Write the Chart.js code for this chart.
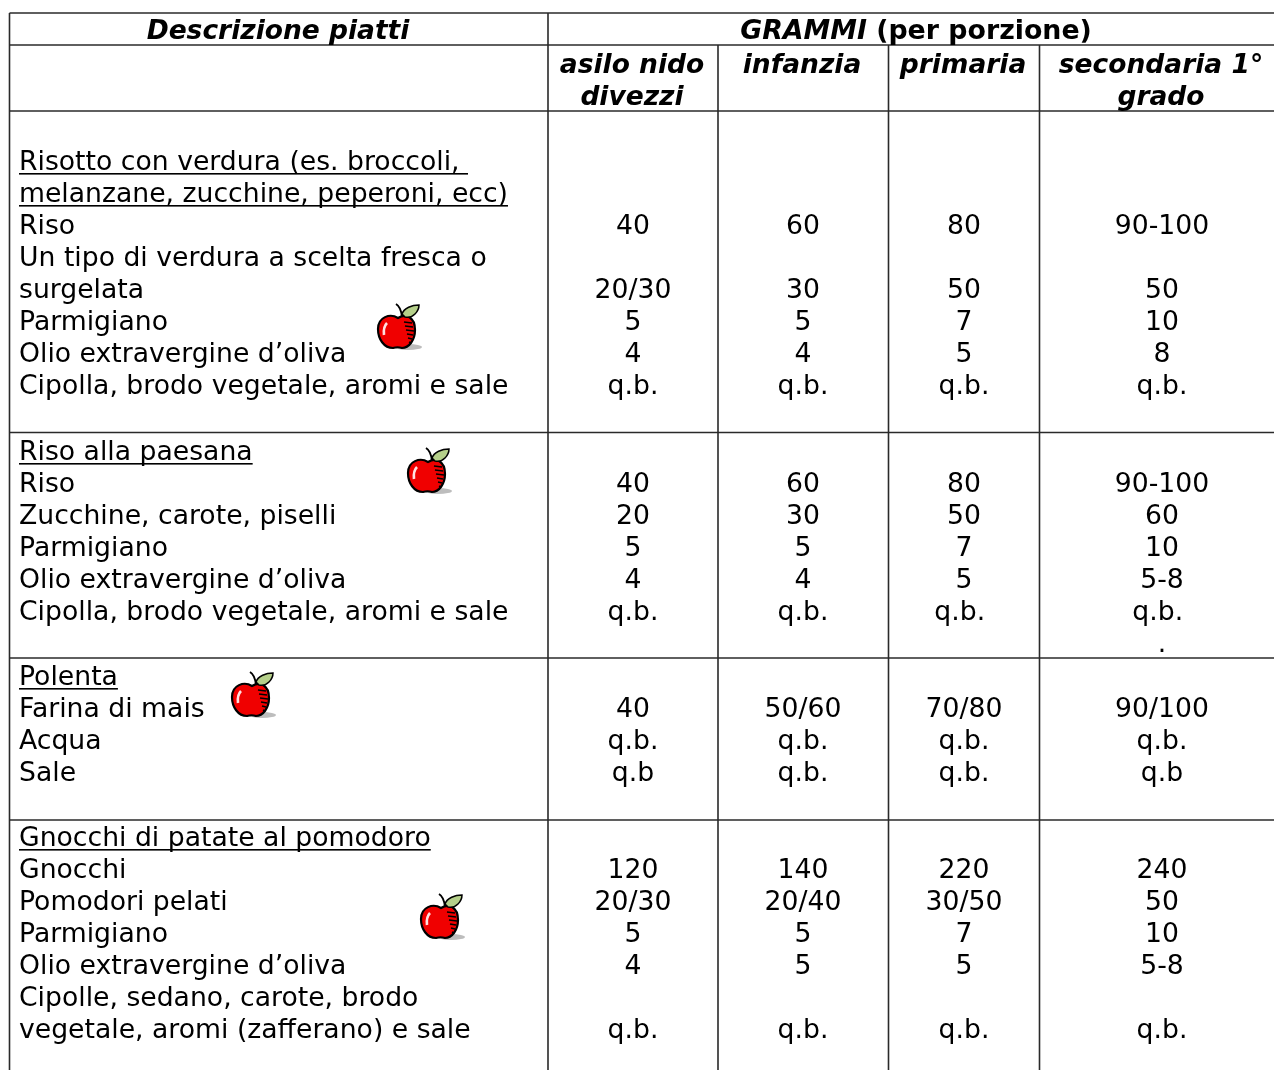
<!DOCTYPE html>
<html lang="it">
<head>
<meta charset="utf-8">
<title>Grammi per porzione</title>
<script src="https://cdn.jsdelivr.net/npm/chart.js@4"></script>
<style>
  html, body { margin: 0; padding: 0; background: #fff; overflow: hidden; }
  canvas { display: block; }
</style>
</head>
<body>
<canvas id="tabella" width="1274" height="1070"></canvas>
<script>
// Testi delle righe, una voce per ogni riga stampata
const descrizioni = [
    'Risotto con verdura (es. broccoli, ', 'melanzane, zucchine, peperoni, ecc)', 'Riso',
    'Un tipo di verdura a scelta fresca o', 'surgelata', 'Parmigiano', 'Olio extravergine d\u2019oliva',
    'Cipolla, brodo vegetale, aromi e sale',
    'Riso alla paesana', 'Riso', 'Zucchine, carote, piselli', 'Parmigiano', 'Olio extravergine d\u2019oliva',
    'Cipolla, brodo vegetale, aromi e sale', '',
    'Polenta', 'Farina di mais', 'Acqua', 'Sale',
    'Gnocchi di patate al pomodoro', 'Gnocchi', 'Pomodori pelati', 'Parmigiano', 'Olio extravergine d\u2019oliva',
    'Cipolle, sedano, carote, brodo', 'vegetale, aromi (zafferano) e sale'
];
const titoli = [0, 1, 8, 15, 19]; // righe sottolineate

const asiloNido = ['', '', '40', '', '20/30', '5', '4', 'q.b.',
    '', '40', '20', '5', '4', 'q.b.', '',
    '', '40', 'q.b.', 'q.b',
    '', '120', '20/30', '5', '4', '', 'q.b.'];
const infanzia = ['', '', '60', '', '30', '5', '4', 'q.b.',
    '', '60', '30', '5', '4', 'q.b.', '',
    '', '50/60', 'q.b.', 'q.b.',
    '', '140', '20/40', '5', '5', '', 'q.b.'];
const primaria = ['', '', '80', '', '50', '7', '5', 'q.b.',
    '', '80', '50', '7', '5', 'q.b. ', '',
    '', '70/80', 'q.b.', 'q.b.',
    '', '220', '30/50', '7', '5', '', 'q.b.'];
const secondaria = ['', '', '90-100', '', '50', '10', '8', 'q.b.',
    '', '90-100', '60', '10', '5-8', 'q.b. ', '.',
    '', '90/100', 'q.b.', 'q.b',
    '', '240', '50', '10', '5-8', '', 'q.b.'];

// Linee di base delle righe
const righeY = [170, 202, 234, 266, 298, 330, 362, 394,
    460, 492, 524, 556, 588, 620, 652,
    685, 717, 749, 781,
    846, 878, 910, 942, 974, 1006, 1038];

const intestazioni = ['asilo nido', 'infanzia', 'primaria', 'secondaria 1\u00b0'];
const intestazioni2 = ['divezzi', '', '', 'grado'];
const centriColonne = [633, 803, 964, 1162];

const bordiOrizzontali = [13, 45, 111, 432.5, 658, 820];
const bordiVerticali = [9.5, 548, 718, 888.5, 1039.5];
const mele = [[399, 327], [429, 471], [253, 695], [442, 917]];

const FONT_TESTO = '26.67px "DejaVu Sans"';
const FONT_TITOLO = 'italic bold 26.5px "DejaVu Sans"';
const FONT_GRAMMI = 'italic bold 26.8px "DejaVu Sans"';
const FONT_GRAMMI_TONDO = 'bold 26.8px "DejaVu Sans"';
const COLORE_LINEE = '#2a2a2a';

// La mela viene disegnata una volta sola e usata come pointStyle
function creaMela() {
    const c = document.createElement('canvas');
    c.width = 48;
    c.height = 50;
    const g = c.getContext('2d');

    g.fillStyle = '#bdbdbd';
    g.beginPath();
    g.ellipse(33, 45, 14, 3, 0, 0, Math.PI * 2);
    g.fill();

    g.fillStyle = '#f00000';
    g.strokeStyle = '#000';
    g.lineWidth = 2.2;
    g.beginPath();
    g.moveTo(23, 16);
    g.bezierCurveTo(31, 11, 40, 15, 40, 28);
    g.bezierCurveTo(40, 38, 34, 46, 27, 46);
    g.bezierCurveTo(24, 45, 21, 45, 18, 46);
    g.bezierCurveTo(9, 46, 3, 37, 3, 27);
    g.bezierCurveTo(3, 15, 15, 11, 23, 16);
    g.closePath();
    g.fill();
    g.stroke();

    g.lineWidth = 1.5;
    [21, 25, 29, 33, 37, 41].forEach((y, i) => {
        g.beginPath();
        g.moveTo(39 - Math.abs(i - 2), y);
        g.lineTo(29 + i, y - 1);
        g.stroke();
    });

    g.strokeStyle = '#ffe0e0';
    g.lineWidth = 2.6;
    g.beginPath();
    g.moveTo(9, 33);
    g.quadraticCurveTo(8, 25, 12, 21);
    g.stroke();

    g.strokeStyle = '#000';
    g.lineWidth = 2;
    g.beginPath();
    g.moveTo(21, 2);
    g.quadraticCurveTo(26, 5, 27, 15);
    g.stroke();

    g.fillStyle = '#b5d08a';
    g.lineWidth = 1.5;
    g.beginPath();
    g.moveTo(27, 12);
    g.bezierCurveTo(29, 6, 37, 3, 44, 3);
    g.bezierCurveTo(44, 9, 38, 17, 30, 15);
    g.closePath();
    g.fill();
    g.stroke();
    return c;
}

function colonna(testi, x) {
    return righeY.map((y, i) => ({ x: x, y: y, testo: testi[i] }));
}

function bordo(x1, y1, x2, y2) {
    return {
        type: 'scatter', showLine: true, pointRadius: 0, borderColor: COLORE_LINEE, borderWidth: 1.6,
        data: [{ x: x1, y: y1 }, { x: x2, y: y2 }]
    };
}

const datasets = [];
bordiOrizzontali.forEach(y => datasets.push(bordo(bordiVerticali[0], y, 1274, y)));
datasets.push(bordo(bordiVerticali[0], bordiOrizzontali[0], bordiVerticali[0], 1070));
datasets.push(bordo(bordiVerticali[1], bordiOrizzontali[0], bordiVerticali[1], 1070));
bordiVerticali.slice(2).forEach(x => datasets.push(bordo(x, bordiOrizzontali[1], x, 1070)));

datasets.push({ type: 'scatter', pointStyle: creaMela(), data: mele.map(m => ({ x: m[0], y: m[1] })) });

const primaColonnaTesto = datasets.length;
datasets.push({ type: 'scatter', pointRadius: 0, allinea: 'left', data: colonna(descrizioni, 19) });
[asiloNido, infanzia, primaria, secondaria].forEach((testi, i) => {
    datasets.push({ type: 'scatter', pointRadius: 0, allinea: 'center', data: colonna(testi, centriColonne[i]) });
});
const testata = intestazioni.map((t, i) => ({ x: centriColonne[i] - 1, y: 73, testo: t }))
    .concat(intestazioni2.map((t, i) => ({ x: centriColonne[i] - 1, y: 105, testo: t })));
datasets.push({ type: 'scatter', pointRadius: 0, allinea: 'center', titolo: true, data: testata });
datasets.push({ type: 'scatter', pointRadius: 0, allinea: 'center', titolo: true,
    data: [{ x: 278, y: 39, testo: 'Descrizione piatti' }] });
datasets.push({ type: 'scatter', pointRadius: 0, grammi: true, data: [{ x: 916, y: 39 }] });

const pluginTesti = {
    id: 'testi',
    afterDatasetsDraw(chart) {
        const ctx = chart.ctx;
        ctx.save();
        ctx.fillStyle = '#000';
        ctx.textBaseline = 'alphabetic';
        chart.data.datasets.forEach((ds, d) => {
            if (d < primaColonnaTesto) return;
            chart.getDatasetMeta(d).data.forEach((p, j) => {
                if (ds.grammi) {
                    // Titolo su due stili: corsivo e tondo
                    const a = 'GRAMMI';
                    const b = ' (per porzione)';
                    ctx.font = FONT_GRAMMI;
                    const wa = ctx.measureText(a).width;
                    ctx.font = FONT_GRAMMI_TONDO;
                    const wb = ctx.measureText(b).width;
                    const x0 = p.x - (wa + wb) / 2;
                    ctx.textAlign = 'left';
                    ctx.font = FONT_GRAMMI;
                    ctx.fillText(a, x0, p.y);
                    ctx.font = FONT_GRAMMI_TONDO;
                    ctx.fillText(b, x0 + wa, p.y);
                    return;
                }
                const testo = ds.data[j].testo;
                if (!testo) return;
                ctx.font = ds.titolo ? FONT_TITOLO : FONT_TESTO;
                ctx.textAlign = ds.allinea;
                ctx.fillText(testo, p.x, p.y);
                if (d === primaColonnaTesto && titoli.includes(j)) {
                    const w = ctx.measureText(testo).width;
                    ctx.fillRect(p.x, p.y + 3, w, 1.6);
                }
            });
        });
        ctx.restore();
    }
};

new Chart(document.getElementById('tabella'), {
    type: 'scatter',
    data: { datasets: datasets },
    plugins: [pluginTesti],
    options: {
        responsive: false,
        animation: false,
        layout: { padding: 0, autoPadding: false },
        scales: {
            x: { type: 'linear', min: 0, max: 1274, display: false },
            y: { type: 'linear', min: 0, max: 1070, reverse: true, display: false }
        },
        plugins: { legend: { display: false }, tooltip: { enabled: false } }
    }
});
</script>
</body>
</html>
